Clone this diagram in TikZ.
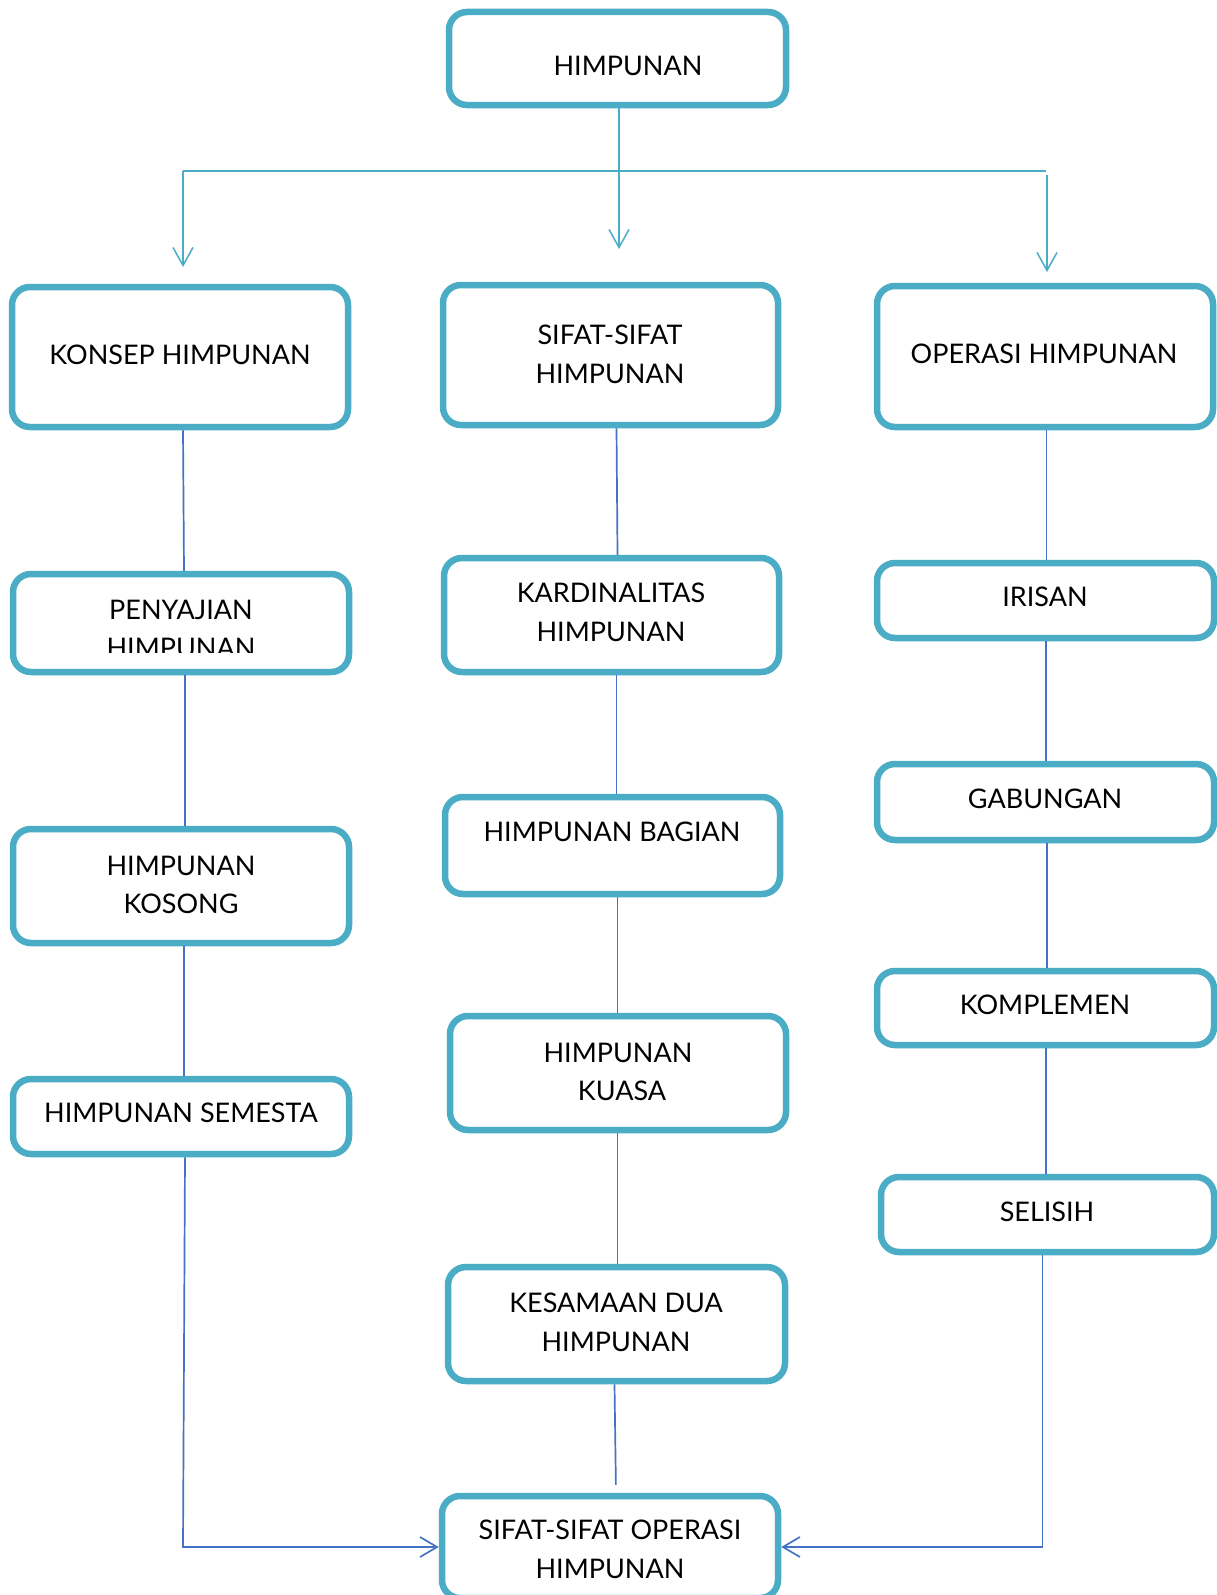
\documentclass[tikz,border=0pt]{standalone}
\usepackage{fontspec}
\setmainfont{Lato}
\usetikzlibrary{arrows.meta}
\definecolor{tealb}{HTML}{4BACC6}
\definecolor{bluel}{HTML}{4472C4}
\newcommand\mkbox[5]{\node[boxs,minimum width={#3-#2},minimum height={#5-#4}] (#1) at ({(#2+#3)/2},{(#4+#5)/2}) {};}
\begin{document}
\begin{tikzpicture}[x=1pt,y=-1pt,
  boxs/.style={draw=tealb,fill=white,line width=6.5pt,rounded corners=18pt,inner sep=0pt},
  txt/.style={font=\fontsize{27}{38.7}\selectfont,align=center,inner sep=0pt,text=black},
  conn/.style={draw=bluel,line width=1.7pt},
  topar/.style={draw=tealb,line width=1.5pt,-{Straight Barb[length=18pt,width=20pt]}},
  botar/.style={draw=bluel,line width=1.7pt,-{Straight Barb[length=17pt,width=20pt]}}]
\useasboundingbox (0,0) rectangle (1216,1595);
% boxes
\mkbox{top}{449}{786}{12}{105}
\mkbox{konsep}{12}{348}{287}{427}
\mkbox{sifat}{443}{778}{285}{425}
\mkbox{operasi}{877}{1213}{286}{427}
\mkbox{penyajian}{13}{349}{574}{672}
\mkbox{kardinal}{444}{779}{558}{672}
\mkbox{irisan}{877}{1214}{563}{638}
\mkbox{gabungan}{877}{1214}{764}{840}
\mkbox{bagian}{445}{780}{797}{894}
\mkbox{kosong}{13}{349}{829}{943}
\mkbox{komplemen}{877}{1214}{971}{1045}
\mkbox{kuasa}{450}{786}{1016}{1130}
\mkbox{semesta}{13}{349}{1079}{1154}
\mkbox{selisih}{881}{1214}{1177}{1252}
\mkbox{kesamaan}{448}{785}{1267}{1381}
\mkbox{sifatop}{442}{778}{1496}{1598}
% texts
\node[txt] (t-top) at (628,66) {HIMPUNAN};
\node[txt] (t-konsep) at (180,355) {KONSEP HIMPUNAN};
\node[txt] (t-sifat) at (610,354) {SIFAT-SIFAT\\HIMPUNAN};
\node[txt] (t-operasi) at (1044,354) {OPERASI HIMPUNAN};
\begin{scope}
\clip (0,560) rectangle (1216,652);
\node[txt] (t-penyajian) at (181,629) {PENYAJIAN\\HIMPUNAN};
\end{scope}
\node[txt] (t-kardinal) at (611,612) {KARDINALITAS\\HIMPUNAN};
\node[txt] (t-irisan) at (1045,597) {IRISAN};
\node[txt] (t-gabungan) at (1045,799) {GABUNGAN};
\node[txt] (t-bagian) at (612,832) {HIMPUNAN BAGIAN};
\node[txt] (t-kosong) at (181,885) {HIMPUNAN\\KOSONG};
\node[txt] (t-komplemen) at (1045,1005) {KOMPLEMEN};
\node[txt] (t-kuasa) at (618,1072) {HIMPUNAN\\\hspace*{8pt}KUASA};
\node[txt] (t-semesta) at (181,1113) {HIMPUNAN SEMESTA};
\node[txt] (t-selisih) at (1047,1212) {SELISIH};
\node[txt] (t-kesamaan) at (616,1322) {KESAMAAN DUA\\HIMPUNAN};
\node[txt] (t-sifatop) at (610,1549) {SIFAT-SIFAT OPERASI\\HIMPUNAN};
% top distribution
\coordinate (barL) at (183,171);
\coordinate (barR) at (1046,171);
\coordinate (tipL) at (183,267);
\coordinate (tipM) at (619,249);
\coordinate (rtop) at (1047,175);
\coordinate (tipR) at (1047,272);
\draw[draw=tealb,line width=2pt] (barL) -- (barR);
\draw[topar] ([xshift=1.5pt]top.south) -- (tipM);
\draw[topar] (barL) -- (tipL);
\draw[topar] (rtop) -- (tipR);
% left column
\draw[conn] ([xshift=3pt]konsep.south) -- ([xshift=3pt]penyajian.north);
\draw[conn] ([xshift=4pt]penyajian.south) -- ([xshift=4pt]kosong.north);
\draw[conn] ([xshift=3pt]kosong.south) -- ([xshift=3pt]semesta.north);
\draw[botar] ([xshift=4pt]semesta.south) -- ([xshift=2pt]semesta.south |- sifatop.west) -- (sifatop.west);
% middle column
\draw[conn] ([xshift=6pt]sifat.south) -- ([xshift=6pt]kardinal.north);
\draw[conn] ([xshift=5pt]kardinal.south) -- ([xshift=5pt]kardinal.south |- bagian.north);
\draw[conn] ([xshift=5pt]bagian.south) -- ([xshift=5pt]bagian.south |- kuasa.north);
\draw[conn] ([xshift=-0.5pt]kuasa.south) -- ([xshift=-0.5pt]kuasa.south |- kesamaan.north);
\draw[conn,shorten >=8pt] ([xshift=-2pt]kesamaan.south) -- ([xshift=6pt]sifatop.north);
% right column
\draw[conn] ([xshift=1.5pt]operasi.south) -- ([xshift=1.5pt]operasi.south |- irisan.north);
\draw[conn] ([xshift=0.5pt]irisan.south) -- ([xshift=0.5pt]gabungan.north);
\draw[conn] ([xshift=1.5pt]gabungan.south) -- ([xshift=1.5pt]komplemen.north);
\draw[conn] ([xshift=0.5pt]komplemen.south) -- ([xshift=0.5pt]komplemen.south |- selisih.north);
\draw[botar] ([xshift=-5pt]selisih.south) -- ([xshift=-5pt]selisih.south |- sifatop.east) -- (sifatop.east);
\end{tikzpicture}
\end{document}
